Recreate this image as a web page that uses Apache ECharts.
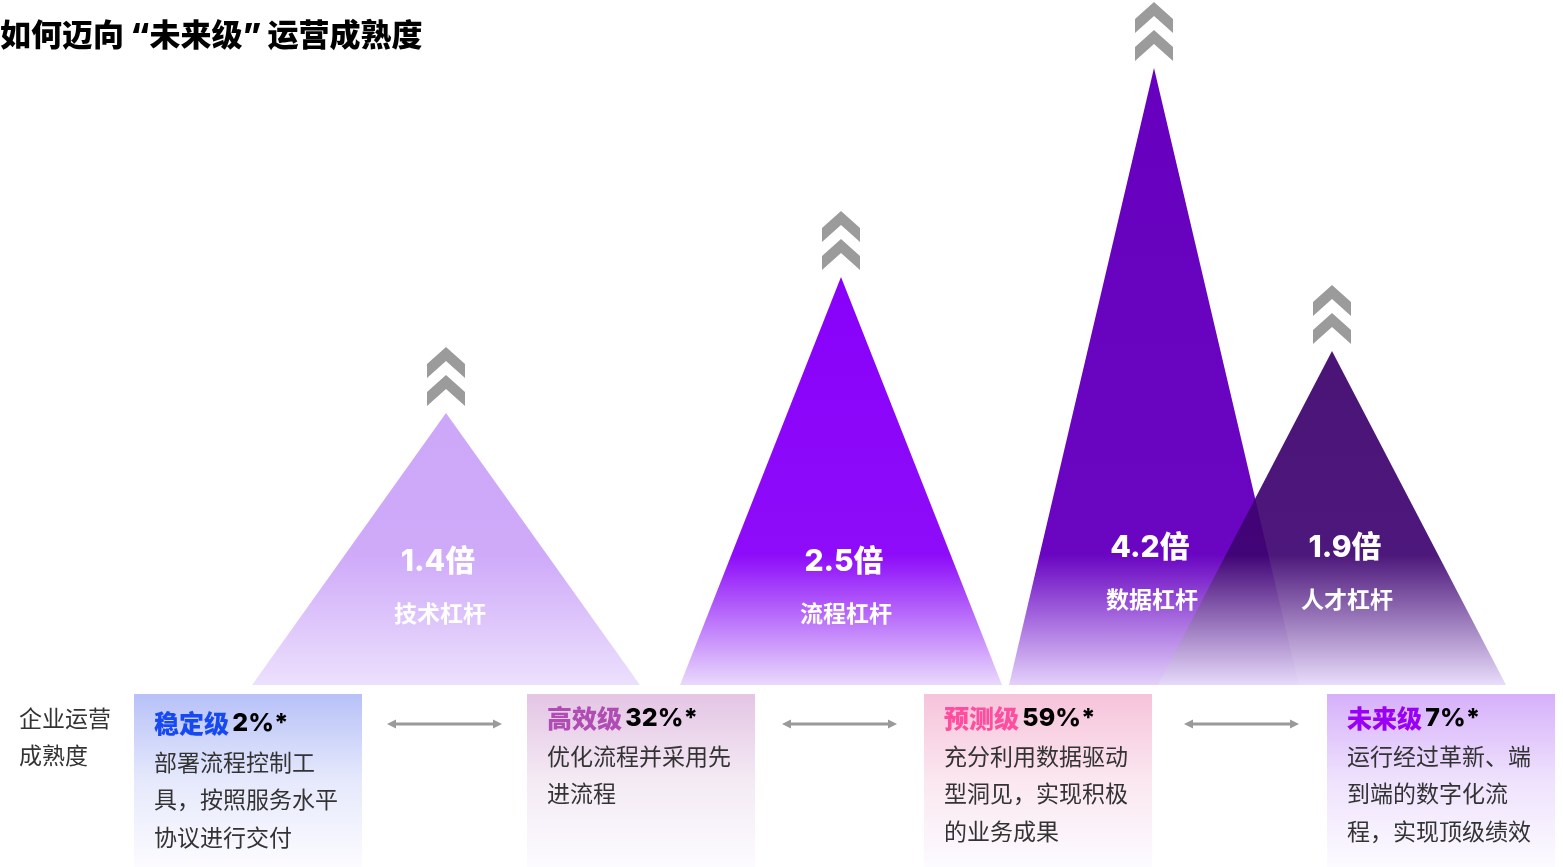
<!DOCTYPE html>
<html><head><meta charset="utf-8">
<script src="https://cdn.jsdelivr.net/npm/echarts@6/dist/echarts.min.js"></script>
<style>html,body{margin:0;padding:0;background:#fff}#c{width:1563px;height:867px}</style>
</head><body><div id="c"></div><script>
// ---- data ----
const chartTitle = '如何迈向 “未来级” 运营成熟度';
const levers = ['技术杠杆', '流程杠杆', '数据杠杆', '人才杠杆'];
const multiples = ['1.4倍', '2.5倍', '4.2倍', '1.9倍'];
const peakCenter = [446, 841, 1154, 1332];
const peakHeight = [272, 408, 617, 334];
const peakHalfBase = [194, 161, 145, 174];
const rowLabel = ['企业运营', '成熟度'];
const levels = ['稳定级', '高效级', '预测级', '未来级'];
const levelShare = ['2%*', '32%*', '59%*', '7%*'];
const levelText = [
  ['部署流程控制工', '具，按照服务水平', '协议进行交付'],
  ['优化流程并采用先', '进流程'],
  ['充分利用数据驱动', '型洞见，实现积极', '的业务成果'],
  ['运行经过革新、端', '到端的数字化流', '程，实现顶级绩效']
];

// ---- styles / layout ----
const peakColors = [
  ['#cda7f8', '#cfaaf9', '#ece0fd'],
  ['#8800fa', '#8e0cf9', '#e9d9fc'],
  ['#6600be', '#6a06c2', '#e3d1fa'],
  ['#3b006c', '#3e0470', '#e7dafb']
];
const peakOpacity = [1, 1, 1, 0.92];
const labelLift = [123, 123, 137, 137];
const labelShift = [-8, 3, -4, 13];
const levelColors = ['#1749f2', '#b04db4', '#ff4ea0', '#9a00f4'];
const boxTop = ['#b7c1f7', '#e4c5e4', '#f6c3da', '#d6b0fa'];
const boxMid = ['#e6e9fc', '#f4eaf4', '#fbe7f0', '#efe2fd'];
const boxLeft = [134, 527, 924, 1327];
const boxWidth = 228;
const boxY = 694;
const titleY = [723, 718, 718, 718];
const bodyY = [762, 756, 756, 756];
const lineGap = 37.5;
const arrows = [[387, 502], [782, 897], [1184, 1299]];
const arrowY = 724;
const CJK = "'Noto Sans CJK SC', 'Noto Sans', sans-serif";
const LATIN = "Inter, 'Noto Sans CJK SC', sans-serif";

const chart = echarts.init(document.getElementById('c'), null, { renderer: 'canvas' });

function chevron(cx, t) {
  return [[cx - 19, t + 17], [cx, t], [cx + 19, t + 17], [cx + 19, t + 31], [cx, t + 14], [cx - 19, t + 31]];
}

const graphics = [];
graphics.push({ type: 'text', x: 0, y: 37, style: { text: chartTitle, fill: '#000', font: '900 31px ' + LATIN, verticalAlign: 'middle' } });
rowLabel.forEach((t, i) => {
  graphics.push({ type: 'text', x: 19, y: 718 + i * 37, style: { text: t, fill: '#333', font: '23px ' + CJK, verticalAlign: 'middle' } });
});
levels.forEach((lv, i) => {
  graphics.push({
    type: 'rect', shape: { x: boxLeft[i], y: boxY, width: boxWidth, height: 867 - boxY },
    style: { fill: new echarts.graphic.LinearGradient(0, 0, 0, 1, [
      { offset: 0, color: boxTop[i] }, { offset: 0.5, color: boxMid[i] }, { offset: 1, color: '#fcfbff' }]) }
  });
  graphics.push({
    type: 'text', x: boxLeft[i] + 20, y: titleY[i],
    style: {
      text: '{a|' + lv + '} {b|' + levelShare[i] + '}', verticalAlign: 'middle',
      rich: {
        a: { fill: levelColors[i], font: '900 25px ' + CJK },
        b: { fill: '#000', font: '800 25px ' + LATIN }
      }
    }
  });
  levelText[i].forEach((line, j) => {
    graphics.push({ type: 'text', x: boxLeft[i] + 20, y: bodyY[i] + j * lineGap,
      style: { text: line, fill: '#333', font: '23px ' + CJK, verticalAlign: 'middle' } });
  });
});
arrows.forEach(([a, b]) => {
  graphics.push({ type: 'line', shape: { x1: a + 6, y1: arrowY, x2: b - 6, y2: arrowY }, style: { stroke: '#9a9a9a', lineWidth: 3 } });
  graphics.push({ type: 'polygon', shape: { points: [[a, arrowY], [a + 9, arrowY - 4.5], [a + 9, arrowY + 4.5]] }, style: { fill: '#9a9a9a' } });
  graphics.push({ type: 'polygon', shape: { points: [[b, arrowY], [b - 9, arrowY - 4.5], [b - 9, arrowY + 4.5]] }, style: { fill: '#9a9a9a' } });
});

const seriesData = levers.map((name, i) => ({ name, value: [peakCenter[i], peakHeight[i], peakHalfBase[i], i] }));

chart.setOption({
  animation: false,
  grid: { left: 0, right: 0, top: 0, bottom: 182, containLabel: false },
  xAxis: { type: 'value', min: 0, max: 1563, show: false },
  yAxis: { type: 'value', min: 0, max: 685, show: false },
  graphic: graphics,
  series: [{
    type: 'custom',
    coordinateSystem: 'cartesian2d',
    data: seriesData,
    renderItem: function (params, api) {
      const c = api.value(0), h = api.value(1), hb = api.value(2), i = api.value(3);
      const apex = api.coord([c, h]);
      const bl = api.coord([c - hb, 0]);
      const br = api.coord([c + hb, 0]);
      const cols = peakColors[i];
      const start = Math.max(0, Math.min(0.95, (555 - apex[1]) / (bl[1] - apex[1])));
      const grad = new echarts.graphic.LinearGradient(0, 0, 0, 1, [
        { offset: 0, color: cols[0] }, { offset: start, color: cols[1] }, { offset: 1, color: cols[2] }]);
      const t = apex[1] - 66;
      const labelPt = api.coord([c, labelLift[i]]);
      return {
        type: 'group',
        children: [
          { type: 'polygon', shape: { points: [apex, br, bl] }, style: { fill: grad, opacity: peakOpacity[i] } },
          { type: 'polygon', shape: { points: chevron(apex[0], t) }, style: { fill: '#9b9b9b' } },
          { type: 'polygon', shape: { points: chevron(apex[0], t + 28) }, style: { fill: '#9b9b9b' } },
          { type: 'text', style: { text: multiples[i], x: labelPt[0] + labelShift[i], y: labelPt[1], fill: '#fff',
              font: '800 30px ' + LATIN, align: 'center', verticalAlign: 'middle' } },
          { type: 'text', style: { text: levers[i], x: labelPt[0] + labelShift[i] + 2, y: labelPt[1] + 51, fill: '#fff',
              font: 'bold 23px ' + CJK, align: 'center', verticalAlign: 'middle' } }
        ]
      };
    }
  }]
});
</script></body></html>
